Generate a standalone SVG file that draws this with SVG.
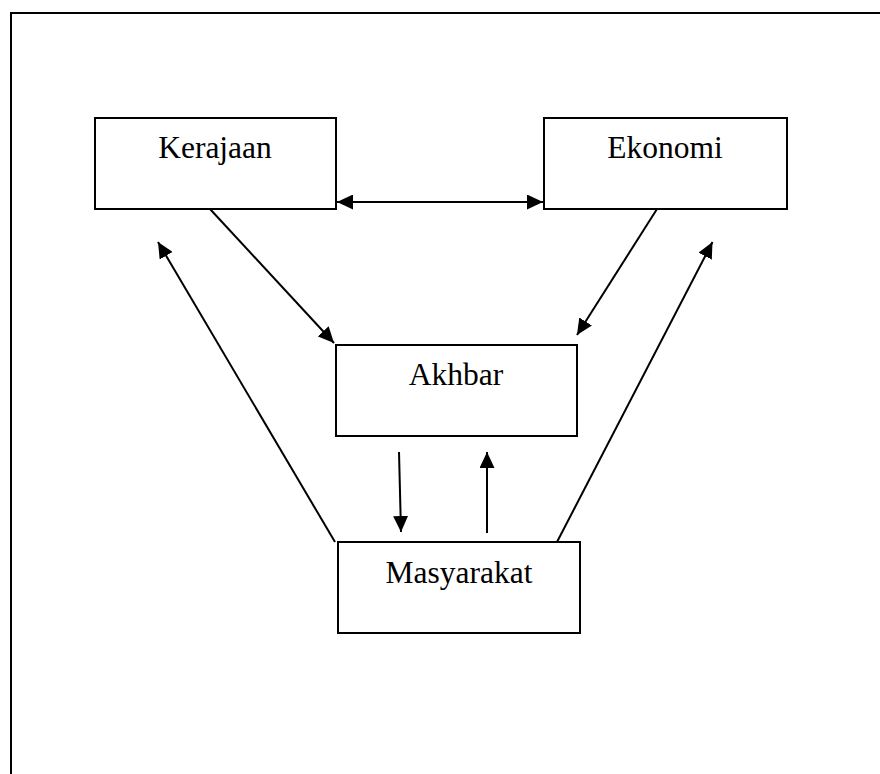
<svg xmlns="http://www.w3.org/2000/svg" width="880" height="774" viewBox="0 0 880 774">
<style>
.box{fill:#fff;stroke:#000;stroke-width:2}
.lbl{font-family:"Liberation Serif","Times New Roman",serif;font-size:31.5px;fill:#000;text-anchor:middle}
.con{stroke:#000;stroke-width:2;fill:none}
</style>
<defs>
<marker id="ah" markerUnits="userSpaceOnUse" markerWidth="16" markerHeight="15" refX="16" refY="7.5" orient="auto-start-reverse" viewBox="0 0 16 15">
<path d="M0,0 L16,7.5 L0,15 z" fill="#000"/>
</marker>
</defs>
<rect width="880" height="774" fill="#fff"/>
<path d="M11,774 L11,13 L880,13" fill="none" stroke="#000" stroke-width="2"/>
<g id="kerajaan">
<rect class="box" x="95" y="118" width="241" height="91"/>
<text class="lbl" x="215" y="158">Kerajaan</text>
</g>
<g id="ekonomi">
<rect class="box" x="544" y="118" width="243" height="91"/>
<text class="lbl" x="665" y="158">Ekonomi</text>
</g>
<g id="akhbar">
<rect class="box" x="336" y="345" width="241" height="91"/>
<text class="lbl" x="456" y="385">Akhbar</text>
</g>
<g id="masyarakat">
<rect class="box" x="338" y="542" width="242" height="91"/>
<text class="lbl" x="459" y="583">Masyarakat</text>
</g>
<g id="connectors">
<line class="con" x1="337" y1="202" x2="543" y2="202" marker-start="url(#ah)" marker-end="url(#ah)"/>
<line class="con" x1="210" y1="209" x2="334" y2="343" marker-end="url(#ah)"/>
<line class="con" x1="657" y1="209" x2="577" y2="335" marker-end="url(#ah)"/>
<line class="con" x1="335" y1="542" x2="158" y2="242" marker-end="url(#ah)"/>
<line class="con" x1="557" y1="542" x2="712.5" y2="242" marker-end="url(#ah)"/>
<line class="con" x1="399" y1="452" x2="401" y2="532" marker-end="url(#ah)"/>
<line class="con" x1="487" y1="533" x2="487" y2="452" marker-end="url(#ah)"/>
</g>
</svg>
